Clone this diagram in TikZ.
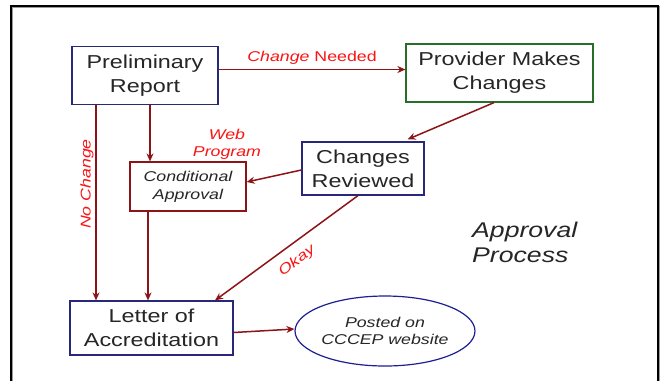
\documentclass[tikz,border=0pt]{standalone}
\usepackage{fontspec}
\setmainfont{Liberation Sans}[FakeStretch=1.25]
\usetikzlibrary{arrows.meta,shapes.geometric}
\definecolor{navy}{RGB}{40,40,120}
\definecolor{dkgreen}{RGB}{40,110,40}
\definecolor{arrowred}{RGB}{140,20,25}
\definecolor{lblred}{RGB}{250,20,20}
\definecolor{ellblue}{RGB}{30,30,150}
\tikzset{
  bigbox/.style={draw=navy,line width=1.2bp,rectangle,inner sep=0pt,align=center,
    font=\fontsize{18.7bp}{24bp}\selectfont,text=black!85},
  smallbox/.style={draw=arrowred,line width=1.2bp,rectangle,inner sep=0pt,align=center,
    font=\fontsize{14.2bp}{18bp}\selectfont\itshape,text=black!85},
  flow/.style={draw=arrowred,line width=1.5bp,-{Stealth[length=8bp,width=7bp]}},
  lbl/.style={text=lblred,font=\fontsize{14.2bp}{17bp}\selectfont\itshape,inner sep=0pt,align=center}
}
\begin{document}
\begin{tikzpicture}[x=1bp,y=-1bp]
\useasboundingbox (0,0) rectangle (660,381);
\fill[white] (0,0) rectangle (660,381);
% frame
\draw[black!40,line width=2.5bp] (11.8,381) -- (11.8,6.8) -- (658.8,6.8) -- (658.8,381);
\draw[black,line width=1.6bp] (11,381) -- (11,6) -- (658,6) -- (658,381);

\node[bigbox,minimum width=146bp,minimum height=58bp] (prelim) at (145,75.5) {Preliminary\\Report};
\node[bigbox,draw=dkgreen,minimum width=187bp,minimum height=58bp] (provider) at (499.5,73) {Provider Makes\\Changes};
\node[bigbox,minimum width=122bp,minimum height=53bp] (reviewed) at (363,168.5) {Changes\\Reviewed};
\node[smallbox,minimum width=116bp,minimum height=49bp] (cond) at (188,186.5) {Conditional\\Approval};
\node[bigbox,minimum width=163bp,minimum height=54bp] (letter) at (151.5,328) {Letter of\\Accreditation};
\node[ellipse,draw=ellblue,line width=1.2bp,inner sep=0pt,minimum width=150bp,minimum height=70bp,
  align=center,font=\fontsize{14.2bp}{17bp}\selectfont\itshape,text=black!85] (posted) at (385,331) {Posted on\\CCCEP website};

\node[anchor=base west,inner sep=0pt,font=\fontsize{21.3bp}{25bp}\selectfont\itshape,text=black!85] (approval) at (472,237) {Approval};
\node[anchor=base west,inner sep=0pt,font=\fontsize{21.3bp}{25bp}\selectfont\itshape,text=black!85] (process) at (472,262) {Process};

% connectors
\draw[flow] ([yshift=6bp]prelim.east) -- ([yshift=6bp]prelim.east -| provider.west)
  node[lbl,midway,above=4bp,font=\fontsize{14.2bp}{17bp}\selectfont] {\itshape Change\upshape{} Needed};
\draw[flow] ([xshift=-5.5bp]provider.south) -- ([xshift=-17bp,yshift=2bp]reviewed.north east);
\draw[flow] ([xshift=5bp]prelim.south) -- ([xshift=5bp]prelim.south |- cond.north);
\draw[flow] ([yshift=-1.5bp]reviewed.west) -- ([yshift=4.5bp]cond.east);
\draw[flow] ([xshift=-49bp]prelim.south) -- ([xshift=-49bp]prelim.south |- letter.north);
\draw[flow] ([xshift=-40bp]cond.south) -- ([xshift=-40bp]cond.south |- letter.north);
\draw[flow] ([xshift=-5bp]reviewed.south) -- ([xshift=63.5bp]letter.north);
\draw[flow] ([yshift=-4.5bp]letter.east) -- ([yshift=2bp]posted.west);

% labels
\node[lbl] (web) at (227,144) {Web\\Program};
\node[lbl,rotate=90] (nochange) at (87,184) {No Change};
\node[lbl,rotate=36.5] (okay) at (297,261) {Okay};
\end{tikzpicture}
\end{document}
